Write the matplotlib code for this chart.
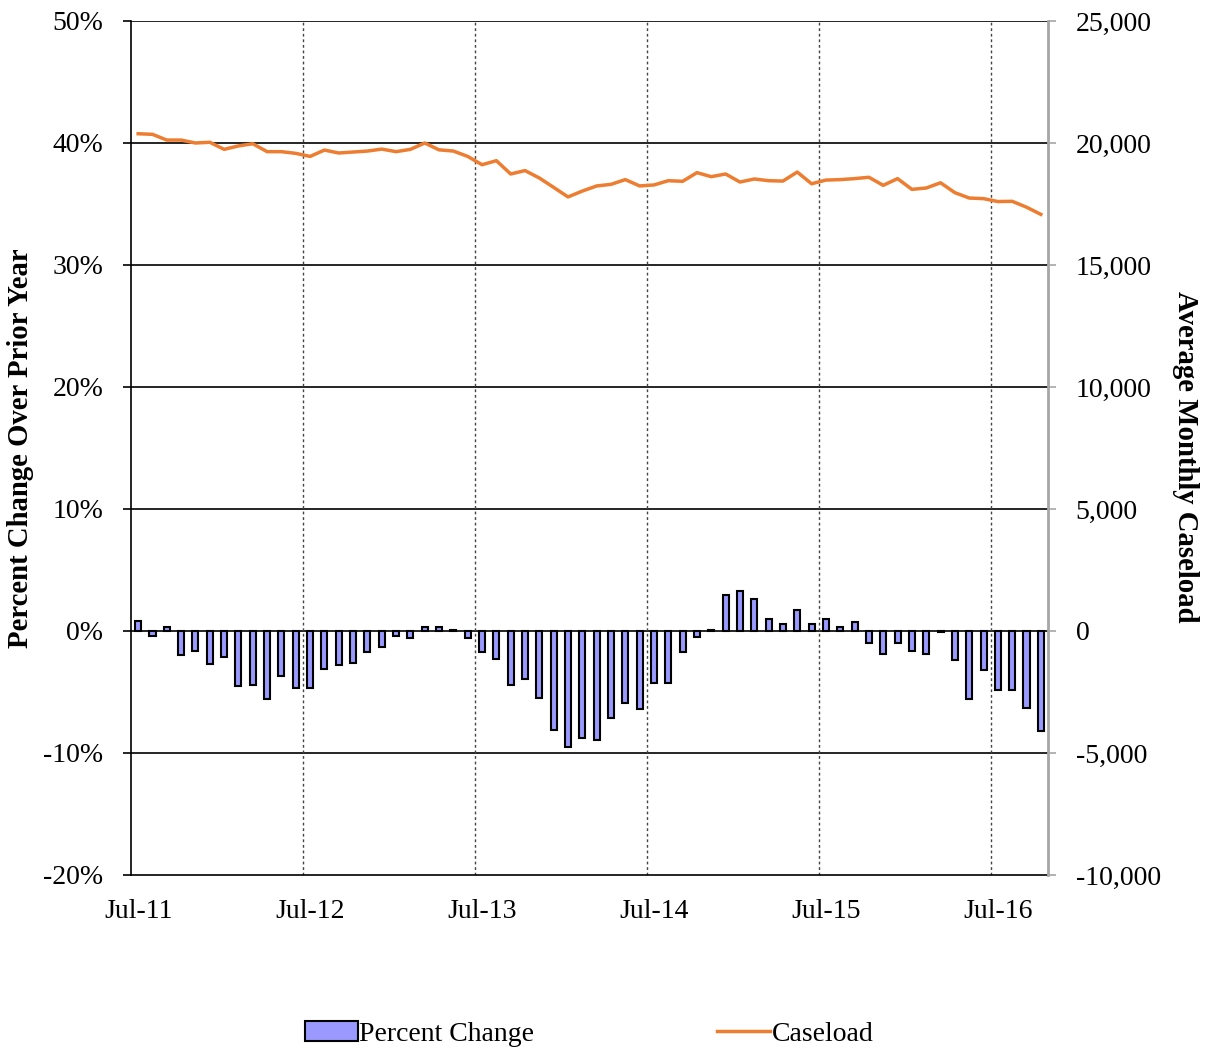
import numpy as np
import matplotlib
matplotlib.use("Agg")
import matplotlib.pyplot as plt
from matplotlib.patches import Patch
from matplotlib.lines import Line2D
from matplotlib.ticker import FuncFormatter

# ── Données (juil. 2011 → oct. 2016, mensuel) ────────────────────────────────
variation_pct = [
    0.8, -0.4, 0.3, -2.0, -1.6, -2.7, -2.1, -4.5, -4.4, -5.6, -3.7, -4.7,
    -4.7, -3.1, -2.8, -2.6, -1.7, -1.3, -0.45, -0.6, 0.3, 0.35, 0.1, -0.55,
    -1.75, -2.3, -4.4, -3.9, -5.5, -8.1, -9.5, -8.8, -8.9, -7.1, -5.9, -6.4,
    -4.3, -4.3, -1.7, -0.5, 0.1, 2.95, 3.3, 2.6, 1.0, 0.6, 1.7, 0.55,
    1.0, 0.35, 0.75, -1.0, -1.9, -0.95, -1.6, -1.9, -0.1, -2.4, -5.6, -3.2,
    -4.8, -4.8, -6.3, -8.2,
]

dossiers = [
    20380, 20355, 20120, 20120, 20000, 20030, 19740, 19880, 19970, 19645, 19645, 19575,
    19450, 19710, 19590, 19630, 19670, 19750, 19645, 19740, 20000, 19720, 19670, 19450,
    19110, 19275, 18730, 18870, 18565, 18180, 17790, 18030, 18240, 18305, 18500, 18240,
    18280, 18455, 18430, 18785, 18620, 18730, 18400, 18525, 18455, 18440, 18810, 18330,
    18480, 18500, 18540, 18595, 18265, 18540, 18100, 18155, 18370, 17965, 17745, 17720,
    17600, 17610, 17370, 17075,
]

etiquettes_x = ["Jul-11", "Jul-12", "Jul-13", "Jul-14", "Jul-15", "Jul-16"]

# ── Style ─────────────────────────────────────────────────────────────────────
plt.rcParams["font.family"] = ["Liberation Serif", "DejaVu Serif"]
plt.rcParams["font.size"] = 20

couleur_barres = "#9999FF"
couleur_ligne = "#ED7D31"
gris = "#A6A6A6"

W, H = 1208, 1051
fig = plt.figure(figsize=(W / 100, H / 100), dpi=100)
fig.subplots_adjust(left=131 / W, right=1048 / W, top=1 - 21 / H, bottom=1 - 875 / H)
ax = fig.add_subplot(111)

x = np.arange(len(variation_pct))
n = len(x)

# ── Barres (axe gauche) ───────────────────────────────────────────────────────
ax.bar(x, np.array(variation_pct) / 100, width=0.42, color=couleur_barres,
       edgecolor="black", linewidth=1.5, zorder=3)

ax.set_xlim(-0.5, n - 0.5)
ax.set_ylim(-0.20, 0.50)
ax.set_yticks(np.arange(-0.20, 0.501, 0.10))
ax.yaxis.set_major_formatter(FuncFormatter(lambda v, p: f"{v*100:.0f}%"))
ax.set_xticks(np.arange(0, n, 12))
ax.set_xticklabels(etiquettes_x)
ax.tick_params(axis="x", length=0, pad=17)
ax.tick_params(axis="y", direction="out", length=6, width=1.2, pad=14)

# grille horizontale pleine, verticale pointillée entre les mois
for yv in np.arange(-0.10, 0.501, 0.10):
    ax.axhline(yv, color="black", linewidth=1.2, zorder=1)
for xv in np.arange(11.5, n - 0.5, 12):
    ax.axvline(xv, color="#444444", linewidth=1.0, linestyle=(0, (2, 2)), zorder=1)

for cote in ["top", "right"]:
    ax.spines[cote].set_visible(False)
ax.spines["left"].set_linewidth(1.2)
ax.spines["bottom"].set_linewidth(1.2)

ax.set_ylabel("Percent Change Over Prior Year", fontweight="bold", fontsize=20.7)
ax.yaxis.set_label_coords(-0.106, 0.5)

# ── Ligne (axe droit) ─────────────────────────────────────────────────────────
ax2 = ax.twinx()
ax2.plot(x, dossiers, color=couleur_ligne, linewidth=2.5, zorder=4)
ax2.set_ylim(-10000, 25000)
ax2.set_yticks(np.arange(-10000, 25001, 5000))
ax2.yaxis.set_major_formatter(FuncFormatter(lambda v, p: f"{v:,.0f}"))
ax2.tick_params(axis="y", direction="out", length=6, width=1.2, color=gris, pad=14)
for cote in ["top", "left", "bottom"]:
    ax2.spines[cote].set_visible(False)
ax2.spines["right"].set_color(gris)
ax2.spines["right"].set_linewidth(2)
ax2.set_ylabel("Average Monthly Caseload", fontweight="bold", fontsize=20.7, rotation=270)
ax2.yaxis.set_label_coords(1.165, 0.49)

# ── Légende ───────────────────────────────────────────────────────────────────
poignees = [
    Patch(facecolor=couleur_barres, edgecolor="black", linewidth=1.5, label="Percent Change"),
    Line2D([0], [0], color=couleur_ligne, linewidth=2.5, label="Caseload"),
]
fig.legend(handles=poignees, loc="center", bbox_to_anchor=(589 / W, 1 - 1034 / H),
           ncol=2, frameon=False, handlelength=1.9, handletextpad=0.05,
           columnspacing=6.6)

fig.savefig("out.png", dpi=100)
